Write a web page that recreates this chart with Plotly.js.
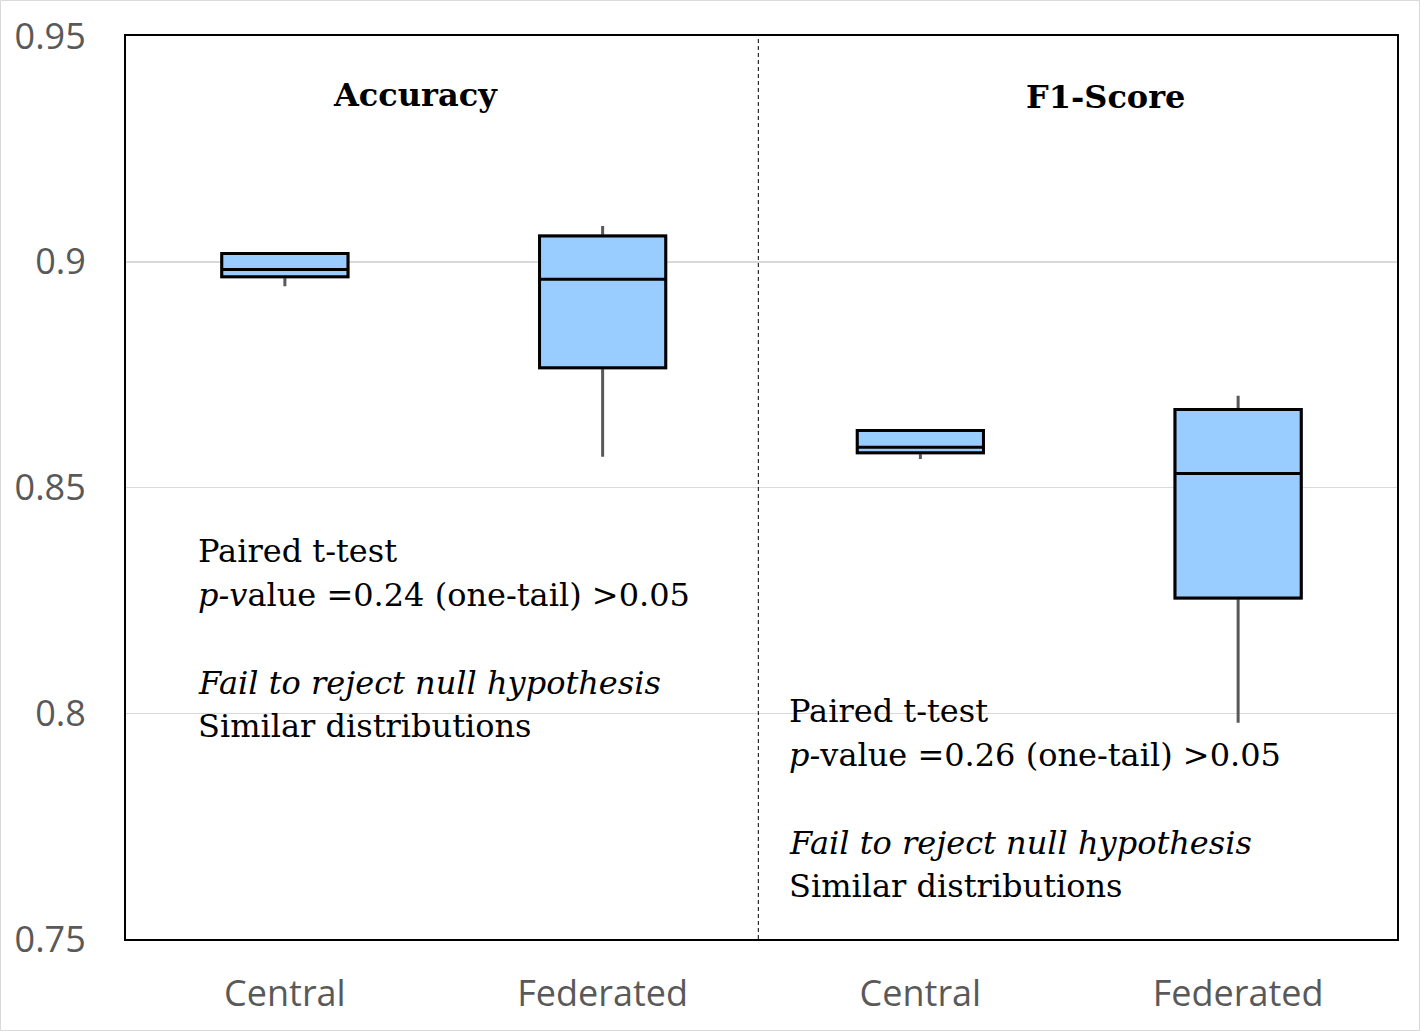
<!DOCTYPE html>
<html>
<head>
<meta charset="utf-8">
<script src="https://cdn.plot.ly/plotly-3.0.1.min.js"></script>
<style>html,body{margin:0;padding:0;background:#fff;}#chart{width:1420px;height:1031px;}</style>
</head>
<body>
<div id="chart"></div>
<script>
// ---- data ----
const categories = ['Central', 'Federated', 'Central', 'Federated'];
const metrics = ['Accuracy', 'Accuracy', 'F1-Score', 'F1-Score'];
const q1 = [0.8967, 0.8765, 0.8577, 0.8255];
const median = [0.8983, 0.8961, 0.8589, 0.8531];
const q3 = [0.9018, 0.9057, 0.8626, 0.8673];
const lowerFence = [0.8946, 0.8568, 0.8563, 0.7979];
const upperFence = [0.9021, 0.9079, 0.8628, 0.8703];
const yTicks = [0.75, 0.8, 0.85, 0.9, 0.95];
const yTickLabels = ['0.75', '0.8', '0.85', '0.9', '0.95'];
const panelTitles = ['Accuracy', 'F1-Score'];
const accText = ['Paired t-test', '<i>p-v</i>alue =0.24 (one-tail) >0.05', '<i>Fail to reject null hypothesis</i>', 'Similar distributions'];
const f1Text = ['Paired t-test', '<i>p-</i>value =0.26 (one-tail) >0.05', '<i>Fail to reject null hypothesis</i>', 'Similar distributions'];

// ---- layout helpers ----
const W = 1420, H = 1031, L = 126, R = 23, T = 36, B = 92;
const PW = W - L - R, PH = H - T - B;
const px = x => (x - L) / PW;
const py = y => (H - B - y) / PH;
const xs = categories.map((c, i) => i);

const whiskerTrace = {
  type: 'box', x: xs, q1: q1, median: median, q3: q3,
  lowerfence: lowerFence, upperfence: upperFence,
  width: 0.397, whiskerwidth: 0,
  line: {color: '#595959', width: 3}, fillcolor: 'rgba(0,0,0,0)',
  boxpoints: false, showlegend: false, hoverinfo: 'skip'
};
const boxTrace = {
  type: 'box', x: xs, q1: q1, median: median, q3: q3,
  lowerfence: q1, upperfence: q3,
  width: 0.397, whiskerwidth: 0,
  line: {color: '#000000', width: 3}, fillcolor: '#9ACDFF',
  boxpoints: false, showlegend: false
};

const serif = 'DejaVu Serif';
const annotations = [];
const titlePos = [[415, 95], [1105, 97]];
panelTitles.forEach((t, i) => {
  annotations.push({xref: 'paper', yref: 'paper', x: px(titlePos[i][0]), y: py(titlePos[i][1]),
    xanchor: 'center', yanchor: 'middle', showarrow: false, text: '<b>' + t + '</b>',
    font: {family: serif, size: 32, color: '#000'}});
});
const lineY = [551, 595, 683, 726];
[[accText, 197, 0], [f1Text, 788, 160]].forEach(([lines, x0, dy]) => {
  lines.forEach((t, j) => {
    annotations.push({xref: 'paper', yref: 'paper', x: px(x0), y: py(lineY[j] + dy),
      xanchor: 'left', yanchor: 'middle', showarrow: false, text: t, borderpad: 0,
      font: {family: serif, size: 32, color: '#000'}});
  });
});

const layout = {
  width: W, height: H,
  margin: {l: L, r: R, t: T, b: B, pad: 0},
  paper_bgcolor: '#fff', plot_bgcolor: '#fff',
  boxmode: 'overlay', showlegend: false,
  xaxis: {
    range: [-0.5, 3.5], tickvals: xs, ticktext: categories,
    showgrid: false, zeroline: false,
    showline: true, mirror: true, linecolor: '#000', linewidth: 2,
    ticks: 'outside', ticklen: 22, tickcolor: 'rgba(0,0,0,0)',
    tickfont: {family: 'Open Sans', size: 36, color: '#595959'}
  },
  yaxis: {
    range: [0.75, 0.95], tickvals: yTicks, ticktext: yTickLabels,
    showgrid: true, gridcolor: '#d9d9d9', gridwidth: 1.5, zeroline: false,
    showline: true, mirror: true, linecolor: '#000', linewidth: 2,
    ticks: 'outside', ticklen: 31, tickcolor: 'rgba(0,0,0,0)',
    tickfont: {family: 'Open Sans', size: 36, color: '#595959'}
  },
  shapes: [
    {type: 'line', xref: 'x', yref: 'paper', x0: 1.49, x1: 1.49, y0: 0, y1: 1,
     line: {color: '#000', width: 1, dash: '4px,3px'}, layer: 'above'},
    {type: 'rect', xref: 'paper', yref: 'paper', x0: px(0.5), x1: px(W - 0.5), y0: py(H - 0.5), y1: py(0.5),
     line: {color: '#d9d9d9', width: 1}, fillcolor: 'rgba(0,0,0,0)', layer: 'above'}
  ],
  annotations: annotations
};

Plotly.newPlot('chart', [whiskerTrace, boxTrace], layout, {displayModeBar: false, staticPlot: true});
</script>
</body>
</html>
